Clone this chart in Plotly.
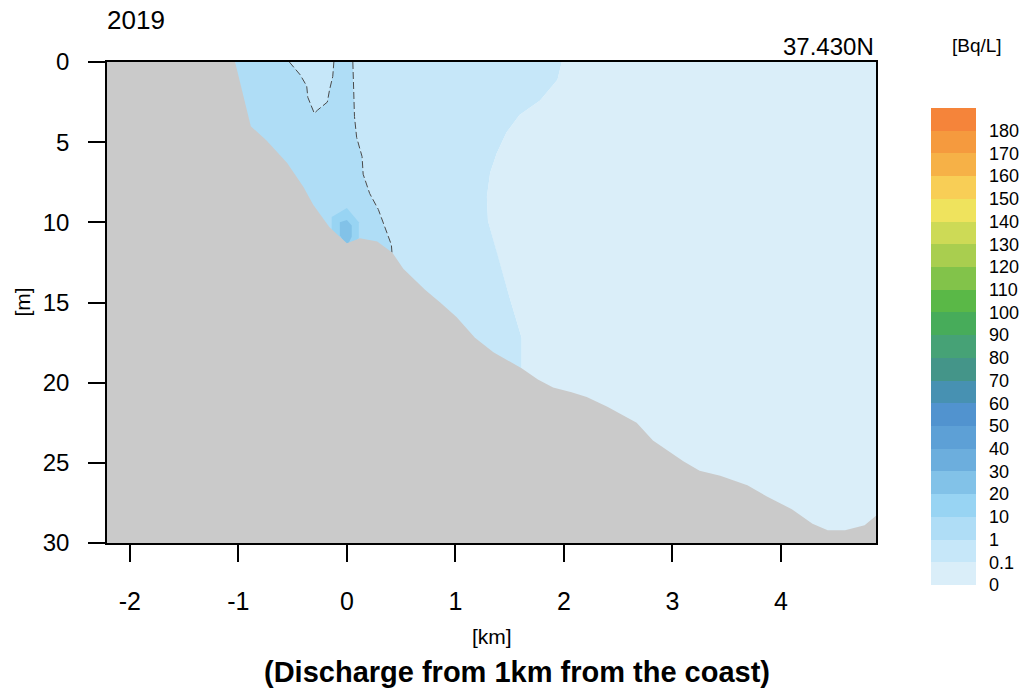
"""
2019年 断面濃度分布（37.430N）
"""
import plotly.graph_objects as go

# 凡例の区切り値 [Bq/L] と色（下から上へ）
levels = ["0", "0.1", "1", "10", "20", "30", "40", "50", "60", "70", "80", "90",
          "100", "110", "120", "130", "140", "150", "160", "170", "180"]
level_colors = ["#DAEEF9", "#C6E7F9", "#AFDDF6", "#98D4F3", "#82C2E8", "#6CAEDD",
                "#5DA0D6", "#5193CF", "#4791B2", "#449589", "#46A276", "#47AC5A",
                "#5AB847", "#82C34A", "#A9CE4F", "#CDDA56", "#EFE35D", "#F8CE56",
                "#F6B147", "#F59A3E", "#F5843A"]

# 軸目盛
x_ticks = [-2, -1, 0, 1, 2, 3, 4]
x_tick_labels = ["-2", "-1", "0", "1", "2", "3", "4"]
y_ticks = [0, 5, 10, 15, 20, 25, 30]

# 海底地形（距離 km / 水深 m）
bottom_km = [-1.03, -0.885, -0.74, -0.55, -0.40, -0.31, -0.16, 0.0, 0.12, 0.28,
             0.42, 0.52, 0.58, 0.72, 0.86, 1.01, 1.18, 1.35, 1.61, 1.76, 1.90,
             2.07, 2.21, 2.40, 2.67, 2.82, 3.10, 3.25, 3.44, 3.69, 3.87, 4.10,
             4.29, 4.43, 4.59, 4.77, 4.875]
bottom_m = [0.0, 4.0, 4.9, 6.3, 7.8, 8.9, 10.3, 11.3, 11.0, 11.2,
            11.9, 12.9, 13.3, 14.2, 15.0, 15.9, 17.2, 18.1, 19.1, 19.8, 20.3,
            20.6, 20.9, 21.5, 22.5, 23.6, 24.9, 25.5, 25.8, 26.4, 27.1, 27.9,
            28.8, 29.2, 29.2, 28.9, 28.3]

# 0.1 Bq/L 等値線
c01_km = [1.98, 1.94, 1.78, 1.59, 1.47, 1.38, 1.32, 1.29, 1.30, 1.38, 1.50, 1.61, 1.61]
c01_m = [0.0, 1.1, 2.4, 3.3, 4.4, 5.7, 6.9, 8.4, 9.9, 11.9, 14.7, 17.2, 19.3]
# 1 Bq/L 等値線（沖側）
c1_km = [0.055, 0.07, 0.09, 0.14, 0.15, 0.21, 0.29, 0.35, 0.41, 0.42]
c1_m = [0.0, 3.4, 4.7, 5.9, 7.0, 8.2, 9.2, 10.3, 11.4, 12.3]
# 1 Bq/L 等値線（表層のくぼみ）
c1n_km = [-0.53, -0.43, -0.37, -0.36, -0.30, -0.27, -0.18, -0.16, -0.13, -0.12]
c1n_m = [0.0, 0.8, 1.5, 2.2, 3.2, 3.0, 2.5, 1.75, 0.9, 0.0]
# 10 / 20 Bq/L 等値線（放出点付近）
c10_km = [-0.14, 0.0, 0.11, 0.11, 0.0, -0.14]
c10_m = [9.67, 9.1, 10.0, 11.0, 11.6, 10.6]
c20_km = [-0.065, 0.0, 0.045, 0.045, 0.0, -0.065]
c20_m = [10.0, 9.86, 10.2, 10.9, 11.5, 10.8]

X_RANGE = [-2.21, 4.875]
DEPTH_MAX = 30
FONT = "Liberation Sans, Arial, Helvetica, sans-serif"

fig = go.Figure()


def add_band(xs, ys, level_index):
    """塗りつぶし領域を追加"""
    fig.add_trace(go.Scatter(
        x=xs, y=ys, mode="lines", fill="toself",
        fillcolor=level_colors[level_index], line=dict(width=0),
        hoverinfo="skip", showlegend=False,
    ))


# 0 - 0.1
add_band(c01_km + [c01_km[-1], X_RANGE[1], X_RANGE[1]],
         c01_m + [DEPTH_MAX, DEPTH_MAX, 0], 0)
# 0.1 - 1
add_band(c1_km + [c1_km[-1], c01_km[-1]] + c01_km[::-1],
         c1_m + [DEPTH_MAX, DEPTH_MAX] + c01_m[::-1], 1)
# 1 - 10
add_band([bottom_km[0]] + c1_km + [c1_km[-1], bottom_km[0]],
         [0] + c1_m + [DEPTH_MAX, DEPTH_MAX], 2)
# 表層のくぼみ (0.1 - 1)
add_band(c1n_km, c1n_m, 1)
# 10 - 20, 20 - 30
add_band(c10_km, c10_m, 3)
add_band(c20_km, c20_m, 4)

# 1 Bq/L 破線
for xs, ys in [(c1_km, c1_m), (c1n_km, c1n_m)]:
    fig.add_trace(go.Scatter(
        x=xs, y=ys, mode="lines",
        line=dict(color="#4a4a4a", width=1, dash="7px,3px"),
        hoverinfo="skip", showlegend=False,
    ))

# 陸地・海底
fig.add_trace(go.Scatter(
    x=[X_RANGE[0]] + bottom_km + [X_RANGE[1], X_RANGE[0]],
    y=[0] + bottom_m + [DEPTH_MAX, DEPTH_MAX],
    mode="lines", fill="toself", fillcolor="#CACACA", line=dict(width=0),
    hoverinfo="skip", showlegend=False,
))

# カラーバー
n = len(level_colors)
colorscale = []
for k, c in enumerate(level_colors):
    colorscale += [[k / n, c], [(k + 1) / n, c]]

fig.add_trace(go.Scatter(
    x=[None], y=[None], mode="markers",
    marker=dict(
        color=[0], cmin=0, cmax=n, colorscale=colorscale, showscale=True,
        colorbar=dict(
            thickness=45, thicknessmode="pixels",
            len=477, lenmode="pixels",
            x=1.0715, xanchor="left", y=0.4085, yanchor="middle",
            xpad=0, ypad=0, outlinewidth=0,
            tickvals=list(range(n)), ticktext=levels,
            ticks="outside", ticklen=10, tickcolor="rgba(0,0,0,0)",
            tickfont=dict(size=18, color="black", family=FONT),
        ),
    ),
    hoverinfo="skip", showlegend=False,
))

axis_common = dict(
    ticks="outside", ticklen=17, tickwidth=1.5, tickcolor="black",
    showline=True, linecolor="black", linewidth=1.5, mirror=True,
    showgrid=False, zeroline=False,
)

fig.update_layout(
    width=1026, height=693,
    margin=dict(l=107, r=150, t=62, b=150, autoexpand=False),
    paper_bgcolor="white", plot_bgcolor="white",
    font=dict(family=FONT, color="black"),
    xaxis=dict(range=X_RANGE, tickvals=x_ticks, ticktext=x_tick_labels,
               tickfont=dict(size=25), ticklabelstandoff=18, **axis_common),
    yaxis=dict(range=[DEPTH_MAX, 0], tickvals=y_ticks,
               tickfont=dict(size=24), ticklabelstandoff=14, **axis_common),
    annotations=[
        dict(text="2019", x=-0.003, y=1.087, xanchor="left", yanchor="middle",
             font=dict(size=26)),
        dict(text="37.430N", x=1.0, y=1.033, xanchor="right", yanchor="middle",
             font=dict(size=24)),
        dict(text="[Bq/L]", x=1.131, y=1.035, xanchor="center", yanchor="middle",
             font=dict(size=19)),
        dict(text="[m]", x=-0.1105, y=0.5, textangle=-90, xanchor="center",
             yanchor="middle", font=dict(size=21)),
        dict(text="[km]", x=0.5006, y=-0.195, xanchor="center", yanchor="middle",
             font=dict(size=21)),
        dict(text="<b>(Discharge from 1km from the coast)</b>", x=0.533, y=-0.268,
             xanchor="center", yanchor="middle", font=dict(size=29)),
    ],
)
for a in fig.layout.annotations:
    a.update(xref="paper", yref="paper", showarrow=False)

# ページ余白を無くして図を左上に揃える
fig.write_html("out.html", config={"displayModeBar": False},
               post_script="document.body.style.margin = '0';")
